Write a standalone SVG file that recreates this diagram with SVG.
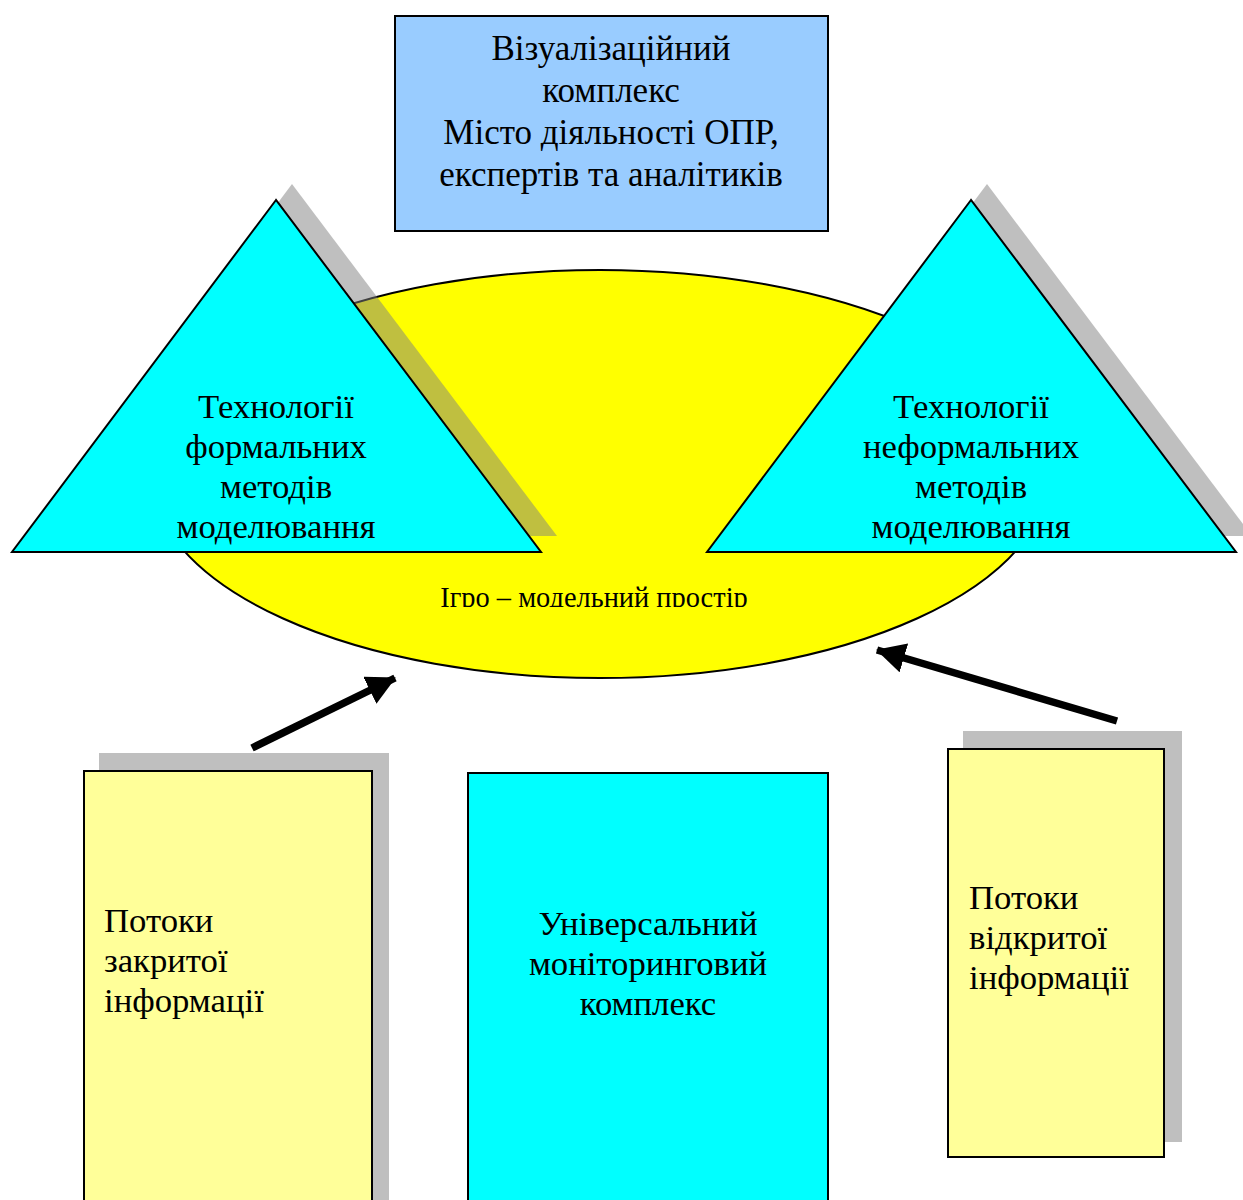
<svg xmlns="http://www.w3.org/2000/svg" width="1243" height="1200" viewBox="0 0 1243 1200">
<style>
text{font-family:"Liberation Serif","Times New Roman",serif;fill:#000}
.big{font-size:35px}
.mid{font-size:34.7px}
.sh{fill:#808080;fill-opacity:0.5}
.ln{stroke:#000;stroke-width:2}
.conn{stroke:#000;stroke-width:7.5;fill:none}
</style>
<defs>
<marker id="ah" markerUnits="userSpaceOnUse" markerWidth="34" markerHeight="32" refX="28" refY="15" orient="auto">
<path d="M0,0 L29,15 L0,30 Z" fill="#000"/>
</marker>
<clipPath id="ec"><rect x="380" y="560" width="460" height="47"/></clipPath>
</defs>
<rect width="1243" height="1200" fill="#fff"/>
<g id="top">
<rect x="395" y="16" width="433" height="215" fill="#99CCFF" class="ln"/>
<text class="big" text-anchor="middle"><tspan x="611" y="60">Візуалізаційний</tspan><tspan x="611" y="102">комплекс</tspan><tspan x="611" y="144">Місто діяльності ОПР,</tspan><tspan x="611" y="186">експертів та аналітиків</tspan></text>
</g>
<g id="space">
<ellipse cx="600" cy="474" rx="449" ry="204" fill="#FFFF00" class="ln"/>
<text font-size="28.4" text-anchor="middle" x="594" y="607" clip-path="url(#ec)">Ігро – модельний простір</text>
</g>
<g id="formal">
<polygon class="sh" points="292,184 28,536 557,536"/>
<polygon points="276,200 12,552 541,552" fill="#00FFFF" class="ln"/>
<text class="mid" text-anchor="middle"><tspan x="276" y="418">Технології</tspan><tspan x="276" y="458">формальних</tspan><tspan x="276" y="498">методів</tspan><tspan x="276" y="538">моделювання</tspan></text>
</g>
<g id="informal">
<polygon class="sh" points="987,184 723,536 1252,536"/>
<polygon points="971,200 707,552 1236,552" fill="#00FFFF" class="ln"/>
<text class="mid" text-anchor="middle"><tspan x="971" y="418">Технології</tspan><tspan x="971" y="458">неформальних</tspan><tspan x="971" y="498">методів</tspan><tspan x="971" y="538">моделювання</tspan></text>
</g>
<g id="closed">
<rect class="sh" x="99" y="753" width="290" height="460"/>
<rect x="84" y="771" width="288" height="440" fill="#FFFF99" class="ln"/>
<text class="mid"><tspan x="104" y="932">Потоки</tspan><tspan x="104" y="972">закритої</tspan><tspan x="104" y="1012">інформації</tspan></text>
</g>
<g id="monitor">
<rect x="468" y="773" width="360" height="440" fill="#00FFFF" class="ln"/>
<text class="mid" text-anchor="middle"><tspan x="648" y="935">Універсальний</tspan><tspan x="648" y="975">моніторинговий</tspan><tspan x="648" y="1015">комплекс</tspan></text>
</g>
<g id="open">
<rect class="sh" x="963" y="731" width="219" height="411"/>
<rect x="948" y="749" width="216" height="408" fill="#FFFF99" class="ln"/>
<text class="mid"><tspan x="969" y="909">Потоки</tspan><tspan x="969" y="949">відкритої</tspan><tspan x="969" y="989">інформації</tspan></text>
</g>
<g id="connectors">
<line class="conn" x1="252" y1="748" x2="395" y2="678" marker-end="url(#ah)"/>
<line class="conn" x1="1117" y1="721" x2="877" y2="650" marker-end="url(#ah)"/>
</g>
</svg>
